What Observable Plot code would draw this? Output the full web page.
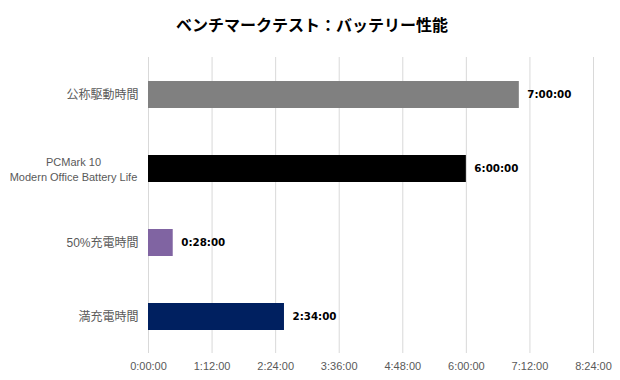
<!DOCTYPE html>
<html><head><meta charset="utf-8">
<script src="https://cdn.jsdelivr.net/npm/d3@7"></script>
<script src="https://cdn.jsdelivr.net/npm/@observablehq/plot@0.6"></script>
<style>
body{margin:0;background:#fff;}
#title{height:40px;box-sizing:border-box;padding-top:14px;padding-left:4px;line-height:20px;text-align:center;font-weight:bold;font-size:16px;font-family:"Noto Sans CJK JP",sans-serif;color:#000;}
#chart svg{display:block;}
</style></head><body>
<div id="title">ベンチマークテスト：バッテリー性能</div>
<div id="chart"></div>
<script>
const categories = ["公称駆動時間", "PCMark 10\nModern Office Battery Life", "50%充電時間", "満充電時間"];
const durations = ["7:00:00", "6:00:00", "0:28:00", "2:34:00"];
const colors = ["#808080", "#000000", "#8064A2", "#002060"];
const tickLabels = ["0:00:00", "1:12:00", "2:24:00", "3:36:00", "4:48:00", "6:00:00", "7:12:00", "8:24:00"];

const toSec = s => s.split(":").reduce((a, v) => a * 60 + (+v), 0);
const data = categories.map((c, i) => ({category: c, label: durations[i], value: toSec(durations[i]), color: colors[i]}));
const ticks = tickLabels.map(toSec);
const tickName = new Map(ticks.map((t, i) => [t, tickLabels[i]]));
const latin = '"Liberation Sans", "Noto Sans CJK JP", sans-serif';

const chart = Plot.plot({
  width: 620,
  height: 340,
  marginTop: 17,
  marginBottom: 27,
  marginLeft: 148,
  marginRight: 27,
  style: {fontFamily: latin, background: "#fff"},
  x: {domain: [0, ticks[ticks.length - 1]], axis: null},
  y: {domain: categories, paddingInner: 0.64, paddingOuter: 0.32, axis: null},
  color: {type: "identity"},
  marks: [
    Plot.gridX(ticks, {stroke: "#d9d9d9", strokeOpacity: 1, strokeWidth: 1}),
    Plot.axisX(ticks, {tickSize: 0, tickPadding: 9, label: null, tickFormat: t => tickName.get(t), fill: "#595959", fontSize: 11, fontFamily: latin}),
    Plot.barX(data, {x: "value", y: "category", fill: "color"}),
    Plot.text(data, {x: "value", y: "category", text: "label", textAnchor: "start", dx: 8, fontWeight: "bold", fontFamily: '"DejaVu Sans", sans-serif', fontSize: 10.3, fill: "#000"}),
    Plot.text(categories.filter(c => !c.includes("\n")), {y: d => d, text: d => d, frameAnchor: "left", textAnchor: "end", dx: -10, fill: "#595959", fontSize: 12, fontFamily: latin}),
    Plot.text(categories.filter(c => c.includes("\n")), {y: d => d, text: d => d, frameAnchor: "left", textAnchor: "middle", dx: -75, lineHeight: 1.36, fill: "#595959", fontSize: 11, fontFamily: latin})
  ]
});
document.getElementById("chart").appendChild(chart);
</script>
</body></html>
